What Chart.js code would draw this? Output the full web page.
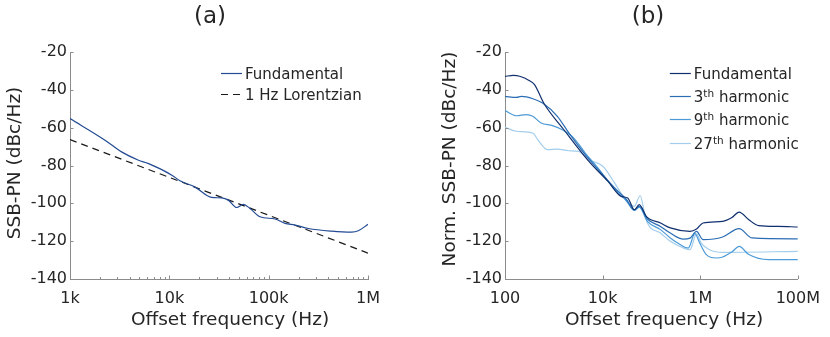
<!DOCTYPE html>
<html>
<head>
<meta charset="utf-8">
<script src="https://cdn.jsdelivr.net/npm/chart.js@4.4.1/dist/chart.umd.min.js"></script>
<style>
  html, body { margin: 0; padding: 0; background: #fff; }
  #wrap { display: flex; width: 830px; height: 337px; }
  canvas { display: block; }
</style>
</head>
<body>
<div id="wrap">
  <canvas id="chart-a" width="415" height="337"></canvas>
  <canvas id="chart-b" width="415" height="337"></canvas>
</div>
<script>
const TEXT = '#262626';
const AXIS = '#8c8c8c';
const FONT = "'DejaVu Sans', sans-serif";

// ---- panel (a) ----
const freqA = [1000, 2250, 3300, 4900, 6100, 10600, 12800, 18000, 26700, 33600, 39300, 47600,
               55600, 64900, 81800, 115900, 145900, 184100, 250600, 430500, 683900, 798000, 1000000];
const fundA = [-55.2, -66.6, -72.8, -77.2, -78.9, -85.1, -88.1, -91.3, -96.9, -97.1, -98.3, -102.2,
               -100.6, -102.7, -107.1, -108.3, -110.6, -111.5, -113.3, -114.7, -115.2, -114.5, -111.1];
const lorFreqA = [1000, 1000000];
const lorA = [-66.3, -126.3];
const xTicksA = [1e3, 1e4, 1e5, 1e6];
const xLabelsA = ['1k', '10k', '100k', '1M'];

// ---- panel (b) ----
const freqFundB = [100, 147, 200, 318, 402, 638, 1611, 5129, 12882, 23988, 32734, 44668, 56234, 79433,
                   153462, 243781, 616595, 839460, 1142878, 2884032, 4466836, 6251727, 9931160,
                   15776112, 39810717, 100000000];
const fundB = [-32.9, -32.4, -32.8, -35.2, -37.3, -47.5, -61.1, -77.5, -88.4, -96.3, -97.2, -103.4, -100.7, -107.0,
               -110.4, -113.0, -114.8, -113.6, -110.4, -109.5, -107.5, -104.6, -108.7,
               -111.8, -112.2, -112.5];

const freq3B = [100, 172, 217, 372, 589, 1183, 2032, 4406, 8128, 17660, 30200, 44668, 56234, 82794,
                153462, 243781, 452898, 616595, 839460, 1142878, 2884032, 6251727, 11588650, 100000000];
const h3B = [-43.5, -44.0, -43.5, -44.7, -47.0, -54.0, -62.8, -74.3, -82.2, -91.9, -97.7, -103.5, -101.5, -108.3,
             -112.2, -115.7, -118.9, -118.4, -114.8, -119.2, -117.8, -113.4, -118.3, -118.8];

const freq9B = [100, 172, 274, 372, 547, 940, 1493, 2570, 4406, 8128, 17660, 30200, 44668, 56234, 82794,
                153462, 243781, 387258, 571479, 776247, 977237, 1333521, 2123244, 2884032, 4570882,
                6251727, 9931160, 25118864, 100000000];
const h9B = [-51.0, -53.7, -53.1, -54.0, -57.5, -58.9, -61.1, -65.5, -73.4, -81.5, -92.5, -98.5, -103.8, -102.0, -109.5,
             -113.9, -118.3, -121.8, -123.6, -116.0, -121.0, -127.1, -128.9, -128.4, -125.4,
             -122.8, -127.1, -129.8, -129.8];

const freq27B = [100, 172, 372, 469, 745, 1183, 2032, 3236, 5129, 10233, 17660, 28184, 44668, 58884, 70795, 82794,
                 153462, 243781, 452898, 616595, 839460, 1047129, 1548817, 2884032, 100000000];
const h27B = [-59.8, -61.9, -62.8, -66.3, -71.6, -71.3, -72.2, -72.5, -76.9, -80.5, -89.3, -97.2, -101.6, -96.0, -104.0, -110.4,
              -115.7, -120.1, -123.6, -124.5, -116.1, -121.0, -124.5, -125.9, -125.4];

const xTicksB = [1e2, 1e4, 1e6, 1e8];
const xLabelsB = ['100', '10k', '1M', '100M'];

const yTicks = [-140, -120, -100, -80, -60, -40, -20];

function toPoints(xs, ys) {
  return xs.map((x, i) => ({ x: x, y: ys[i] }));
}

// minor log ticks (2..9 per decade) for panel (a)
function minorTicks(decades) {
  const out = [];
  for (let i = 0; i < decades.length - 1; i++) {
    for (let k = 2; k <= 9; k++) out.push(decades[i] * k);
  }
  return out;
}

// MATLAB style ticks, pointing into the axes
const inwardTicksPlugin = {
  id: 'inwardTicks',
  afterDraw(chart, args, opts) {
    const { ctx, scales: { x, y } } = chart;
    ctx.save();
    ctx.strokeStyle = AXIS;
    ctx.lineWidth = 1;
    ctx.beginPath();
    opts.major.forEach(v => {
      const px = Math.round(x.getPixelForValue(v)) + 0.5;
      ctx.moveTo(px, x.top);
      ctx.lineTo(px, x.top - 3.5);
    });
    (opts.minor || []).forEach(v => {
      const px = Math.round(x.getPixelForValue(v)) + 0.5;
      ctx.moveTo(px, x.top);
      ctx.lineTo(px, x.top - 2);
    });
    yTicks.forEach(v => {
      const py = Math.round(y.getPixelForValue(v)) + 0.5;
      ctx.moveTo(y.right, py);
      ctx.lineTo(y.right + 3.5, py);
    });
    ctx.stroke();
    ctx.restore();
  }
};

// panel letter and axis titles
const panelTextPlugin = {
  id: 'panelText',
  afterDraw(chart, args, opts) {
    const ctx = chart.ctx;
    ctx.save();
    ctx.fillStyle = TEXT;
    ctx.textAlign = 'center';
    ctx.textBaseline = 'middle';
    ctx.font = `23px ${FONT}`;
    ctx.fillText(opts.title, opts.titleX, opts.titleY);
    ctx.font = `18.5px ${FONT}`;
    ctx.fillText(opts.xTitle, opts.xTitleX, opts.xTitleY);
    ctx.translate(opts.yTitleX, opts.yTitleY);
    ctx.rotate(-Math.PI / 2);
    ctx.fillText(opts.yTitle, 0, 0);
    ctx.restore();
  }
};

// legend inside the axes, with superscript "th"
const insideLegendPlugin = {
  id: 'insideLegend',
  afterDraw(chart, args, opts) {
    const { ctx, chartArea: a } = chart;
    const x0 = a.right - opts.fromRight;
    ctx.save();
    chart.data.datasets.forEach((ds, i) => {
      const y = Math.round(a.top + opts.top + i * opts.rowStep) + 0.5;
      ctx.strokeStyle = ds.borderColor;
      ctx.lineWidth = ds.borderWidth;
      ctx.setLineDash(ds.borderDash || []);
      ctx.beginPath();
      ctx.moveTo(x0, y);
      ctx.lineTo(x0 + 21, y);
      ctx.stroke();

      ctx.fillStyle = TEXT;
      ctx.textAlign = 'left';
      ctx.textBaseline = 'alphabetic';
      const by = y + 5.5;
      let tx = x0 + 24;
      const m = ds.label.match(/^(\d+)(th)(.*)$/);
      if (m) {
        ctx.font = `15px ${FONT}`;
        ctx.fillText(m[1], tx, by);
        tx += ctx.measureText(m[1]).width;
        ctx.font = `10.5px ${FONT}`;
        ctx.fillText(m[2], tx, by - 5.5);
        tx += ctx.measureText(m[2]).width;
        ctx.font = `15px ${FONT}`;
        ctx.fillText(m[3], tx, by);
      } else {
        ctx.font = `15px ${FONT}`;
        ctx.fillText(ds.label, tx, by);
      }
    });
    ctx.restore();
  }
};

function scalesFor(xMin, xMax, xTicks, xLabels, yWidth) {
  return {
    x: {
      type: 'logarithmic',
      min: xMin,
      max: xMax,
      afterBuildTicks: s => { s.ticks = xTicks.map(v => ({ value: v })); },
      afterFit: s => { s.height = 58; },
      grid: { display: false, drawTicks: false },
      border: { display: true, color: AXIS, width: 1 },
      ticks: {
        autoSkip: false,
        maxRotation: 0,
        padding: 10,
        color: TEXT,
        font: { family: FONT, size: 16 },
        callback: (v, i) => xLabels[i]
      }
    },
    y: {
      type: 'linear',
      min: -140,
      max: -20,
      afterBuildTicks: s => { s.ticks = yTicks.map(v => ({ value: v })); },
      afterFit: s => { s.width = yWidth; },
      grid: { display: false, drawTicks: false },
      border: { display: true, color: AXIS, width: 1 },
      ticks: {
        padding: 3,
        color: TEXT,
        font: { family: FONT, size: 16 },
        callback: v => String(v)
      }
    }
  };
}

function lineDataset(label, xs, ys, color, dash) {
  return {
    label: label,
    data: toPoints(xs, ys),
    borderColor: color,
    backgroundColor: color,
    borderWidth: 1.2,
    borderDash: dash || [],
    pointRadius: 0,
    cubicInterpolationMode: 'monotone',
    fill: false
  };
}

function loadCharts() {
  const commonPlugins = { legend: { display: false }, tooltip: { enabled: false }, title: { display: false } };

  new Chart(document.getElementById('chart-a').getContext('2d'), {
    type: 'line',
    data: {
      datasets: [
        lineDataset('Fundamental', freqA, fundA, '#234b94'),
        lineDataset('1 Hz Lorentzian', lorFreqA, lorA, '#1a1a1a', [7, 5])
      ]
    },
    options: {
      responsive: false,
      animation: false,
      devicePixelRatio: 1,
      layout: { padding: { left: 0, right: 47, top: 52, bottom: 0 } },
      scales: scalesFor(1e3, 1e6, xTicksA, xLabelsA, 70),
      plugins: Object.assign({}, commonPlugins, {
        inwardTicks: { major: xTicksA, minor: minorTicks(xTicksA) },
        panelText: {
          title: '(a)', titleX: 210, titleY: 17,
          xTitle: 'Offset frequency (Hz)', xTitleX: 230, xTitleY: 320,
          yTitle: 'SSB-PN (dBc/Hz)', yTitleX: 15, yTitleY: 163
        },
        insideLegend: { fromRight: 147, top: 20.7, rowStep: 21.7 }
      })
    },
    plugins: [inwardTicksPlugin, panelTextPlugin, insideLegendPlugin]
  });

  new Chart(document.getElementById('chart-b').getContext('2d'), {
    type: 'line',
    data: {
      datasets: [
        lineDataset('Fundamental', freqFundB, fundB, '#0f2f6e'),
        lineDataset('3th harmonic', freq3B, h3B, '#2a6db4'),
        lineDataset('9th harmonic', freq9B, h9B, '#4c9bd8'),
        lineDataset('27th harmonic', freq27B, h27B, '#a3cdec')
      ]
    },
    options: {
      responsive: false,
      animation: false,
      devicePixelRatio: 1,
      layout: { padding: { left: 0, right: 27, top: 52, bottom: 0 } },
      scales: scalesFor(1e2, 1e8, xTicksB, xLabelsB, 90),
      plugins: Object.assign({}, commonPlugins, {
        inwardTicks: { major: xTicksB },
        panelText: {
          title: '(b)', titleX: 233, titleY: 17,
          xTitle: 'Offset frequency (Hz)', xTitleX: 249, xTitleY: 320,
          yTitle: 'Norm. SSB-PN (dBc/Hz)', yTitleX: 35, yTitleY: 159
        },
        insideLegend: { fromRight: 128, top: 20.7, rowStep: 23.3 }
      })
    },
    plugins: [inwardTicksPlugin, panelTextPlugin, insideLegendPlugin]
  });
}

document.addEventListener('DOMContentLoaded', loadCharts);
</script>
</body>
</html>
